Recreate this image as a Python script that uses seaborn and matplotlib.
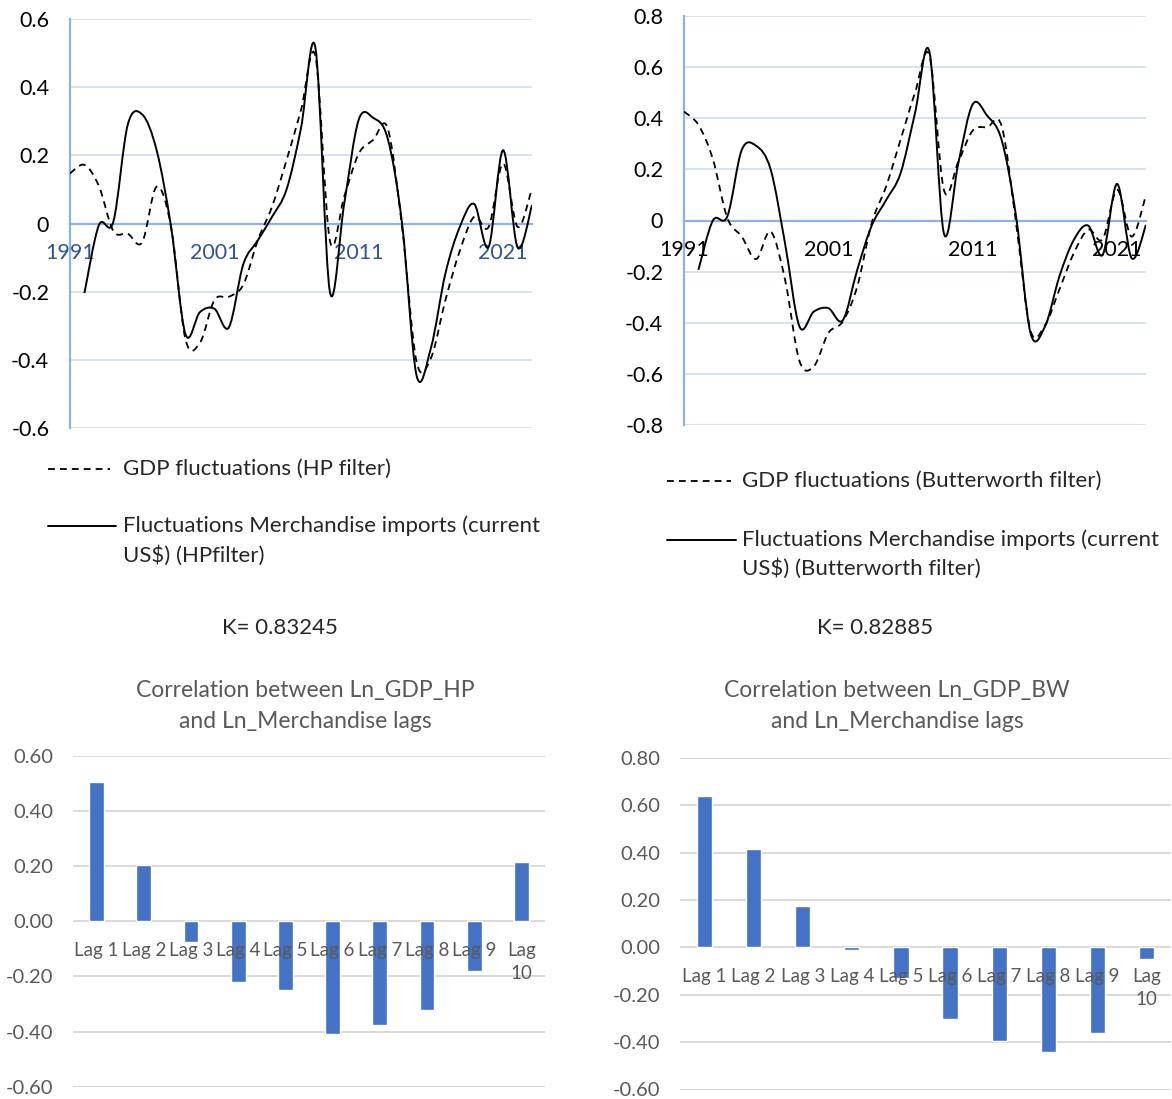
import numpy as np
import matplotlib
matplotlib.use("Agg")
import matplotlib.pyplot as plt
from matplotlib.path import Path
from matplotlib.patches import PathPatch
from matplotlib.lines import Line2D
import seaborn as sns

# ---------------- data ----------------
years = list(range(1991, 2024))

gdp_hp = [0.147, 0.172, 0.110, -0.022, -0.030, -0.055, 0.108, -0.010, -0.340, -0.350,
          -0.225, -0.215, -0.180, -0.050, 0.050, 0.186, 0.333, 0.490, -0.050, 0.080,
          0.205, 0.245, 0.280, -0.010, -0.405, -0.395, -0.225, -0.080, 0.020, -0.010,
          0.176, -0.010, 0.103]
imports_hp = [np.nan, -0.204, -0.005, 0.005, 0.290, 0.320, 0.215, -0.010, -0.325, -0.260,
              -0.250, -0.305, -0.120, -0.050, 0.020, 0.100, 0.280, 0.515, -0.200, 0.060,
              0.305, 0.310, 0.250, 0.000, -0.445, -0.365, -0.147, -0.010, 0.057, -0.068,
              0.215, -0.070, 0.054]

gdp_bw = [0.426, 0.374, 0.240, 0.010, -0.063, -0.151, -0.043, -0.232, -0.550, -0.570,
          -0.440, -0.395, -0.258, -0.010, 0.133, 0.316, 0.500, 0.645, 0.120, 0.230,
          0.352, 0.365, 0.370, -0.010, -0.430, -0.410, -0.270, -0.128, -0.036, -0.073,
          0.120, -0.063, 0.100]
imports_bw = [np.nan, -0.193, 0.000, 0.016, 0.276, 0.292, 0.200, -0.090, -0.415, -0.356,
              -0.343, -0.390, -0.193, -0.020, 0.080, 0.185, 0.420, 0.660, -0.050, 0.224,
              0.455, 0.410, 0.315, 0.016, -0.440, -0.415, -0.219, -0.076, -0.020, -0.134,
              0.143, -0.147, -0.017]

year_ticks = [1991, 2001, 2011, 2021]

lag_labels = ["Lag 1", "Lag 2", "Lag 3", "Lag 4", "Lag 5",
              "Lag 6", "Lag 7", "Lag 8", "Lag 9", "Lag\n10"]
corr_hp = [0.505, 0.203, -0.075, -0.220, -0.248, -0.410, -0.375, -0.323, -0.181, 0.216]
corr_bw = [0.639, 0.413, 0.174, -0.011, -0.131, -0.304, -0.395, -0.440, -0.363, -0.049]

# ---------------- style ----------------
sns.set_style("white")
plt.rcParams["font.family"] = ["Lato", "DejaVu Sans"]

W, H = 1172, 1099
fig = plt.figure(figsize=(W / 100, H / 100), dpi=100)
fig.patch.set_facecolor("white")

AXIS_BLUE = "#8DB3E2"
GRID_BLUE = "#D6E2F4"
GRID_GRAY = "#D9D9D9"
TEXT_GRAY = "#595959"
BAR_BLUE = "#4472C4"
TEXT_SIZE = 16


def add_axes_px(x0, y0, x1, y1):
    """Axes from a pixel box measured from the top-left corner."""
    return fig.add_axes([x0 / W, 1 - y1 / H, (x1 - x0) / W, (y1 - y0) / H])


def smooth_path(xs, ys):
    """Cubic Bezier path through the points (Catmull-Rom style smoothing)."""
    pts = np.column_stack([np.asarray(xs, float), np.asarray(ys, float)])
    pts = pts[~np.isnan(pts[:, 1])]
    n = len(pts)
    verts = [pts[0]]
    codes = [Path.MOVETO]
    for i in range(n - 1):
        p0 = pts[i - 1] if i > 0 else pts[i]
        p1, p2 = pts[i], pts[i + 1]
        p3 = pts[i + 2] if i + 2 < n else pts[i + 1]
        verts += [p1 + (p2 - p0) / 6.0, p2 - (p3 - p1) / 6.0, p2]
        codes += [Path.CURVE4] * 3
    return Path(verts, codes)


def line_panel(box, ylim, step, gdp, imp, year_color):
    ax = add_axes_px(*box)
    ax.set_xlim(years[0], years[-1])
    ax.set_ylim(*ylim)
    yt = np.round(np.arange(ylim[0], ylim[1] + 1e-9, step), 1)
    ax.set_yticks(yt)
    ax.set_yticklabels(["0" if v == 0 else f"{v:g}" for v in yt])
    ax.set_xticks(year_ticks)
    ax.set_xticklabels([str(y) for y in year_ticks])
    for v in yt:
        if v != 0:
            ax.axhline(v, color=GRID_BLUE, lw=1.4, zorder=0)
    for s in ("top", "right"):
        ax.spines[s].set_visible(False)
    ax.spines["left"].set_color(AXIS_BLUE)
    ax.spines["left"].set_linewidth(1.6)
    ax.spines["bottom"].set_position(("data", 0))
    ax.spines["bottom"].set_color(AXIS_BLUE)
    ax.spines["bottom"].set_linewidth(1.6)
    ax.tick_params(axis="y", length=0, pad=15, labelsize=15.5, labelcolor="black")
    ax.tick_params(axis="x", length=0, pad=14, labelsize=15.5, labelcolor=year_color)
    ax.set_facecolor("white")
    ax.add_patch(PathPatch(smooth_path(years, gdp), fill=False, color="black",
                           lw=1.3, linestyle=(0, (3.8, 2.8)), zorder=3))
    ax.add_patch(PathPatch(smooth_path(years, imp), fill=False, color="black",
                           lw=1.4, zorder=4))
    return ax


def bar_panel(box, ylim, values):
    ax = add_axes_px(*box)
    sns.barplot(x=list(range(len(values))), y=values, color=BAR_BLUE, saturation=1,
                width=0.31, ax=ax, zorder=1)
    ax.set_xlim(-0.5, len(values) - 0.5)
    ax.set_ylim(*ylim)
    yt = np.round(np.arange(ylim[0], ylim[1] + 1e-9, 0.2), 1)
    ax.set_yticks(yt)
    ax.set_yticklabels([f"{v:.2f}" for v in yt])
    for v in yt:
        ax.axhline(v, color=GRID_GRAY, lw=1.4, zorder=0)
    ax.set_xticks(range(len(values)))
    ax.set_xticklabels(lag_labels)
    for s in ax.spines.values():
        s.set_visible(False)
    ax.spines["bottom"].set_position(("data", 0))
    ax.tick_params(axis="y", length=0, pad=14, labelsize=14.5, labelcolor=TEXT_GRAY)
    ax.tick_params(axis="x", length=0, pad=15, labelsize=13.5, labelcolor=TEXT_GRAY)
    for lbl in ax.get_xticklabels():
        lbl.set_linespacing(1.4)
    # category labels sit on top of the bars
    ax.xaxis.set_zorder(5)
    ax.set_xlabel("")
    ax.set_ylabel("")
    return ax


# ---------------- line charts ----------------
line_panel((70, 19, 532, 428), (-0.6, 0.6), 0.2, gdp_hp, imports_hp, "#2F5597")
line_panel((684, 16, 1146, 425), (-0.8, 0.8), 0.2, gdp_bw, imports_bw, "black")


# ---------------- legends ----------------
def fx(px):
    return px / W


def fy(py):
    return 1 - py / H


def legend_block(x_line0, x_line1_dash, x_line1_solid, x_text, y_dash, y_solid, y_solid2,
                 dash_text, solid_text1, solid_text2):
    fig.add_artist(Line2D([fx(x_line0), fx(x_line1_dash)], [fy(y_dash)] * 2, color="black",
                          lw=1.3, linestyle=(0, (3.8, 2.8))))
    fig.add_artist(Line2D([fx(x_line0), fx(x_line1_solid)], [fy(y_solid)] * 2, color="black",
                          lw=1.4))
    fig.text(fx(x_text), fy(y_dash), dash_text, ha="left", va="center", fontsize=TEXT_SIZE)
    fig.text(fx(x_text), fy(y_solid), solid_text1, ha="left", va="center", fontsize=TEXT_SIZE)
    fig.text(fx(x_text), fy(y_solid2), solid_text2, ha="left", va="center", fontsize=TEXT_SIZE)


legend_block(48, 110, 116, 123, 469, 526, 556,
             "GDP fluctuations (HP filter)",
             "Fluctuations Merchandise imports (current",
             "US\\$) (HPfilter)")
legend_block(667, 731, 736, 742, 481, 540, 569,
             "GDP fluctuations (Butterworth filter)",
             "Fluctuations Merchandise imports (current",
             "US\\$) (Butterworth filter)")

fig.text(fx(280), fy(628), "K= 0.83245", ha="center", va="center", fontsize=TEXT_SIZE)
fig.text(fx(875), fy(628), "K= 0.82885", ha="center", va="center", fontsize=TEXT_SIZE)

# ---------------- bar charts ----------------
for cx, name in ((305, "Correlation between Ln_GDP_HP"), (897, "Correlation between Ln_GDP_BW")):
    fig.text(fx(cx), fy(690), name, ha="center", va="center", fontsize=16.5, color=TEXT_GRAY)
    fig.text(fx(cx), fy(721), "and Ln_Merchandise lags", ha="center", va="center",
             fontsize=16.5, color=TEXT_GRAY)

bar_panel((73, 755.7, 545, 1086.7), (-0.6, 0.6), corr_hp)
bar_panel((680, 757.7, 1171, 1089.5), (-0.6, 0.8), corr_bw)

fig.savefig("out.png", dpi=100, facecolor="white")
